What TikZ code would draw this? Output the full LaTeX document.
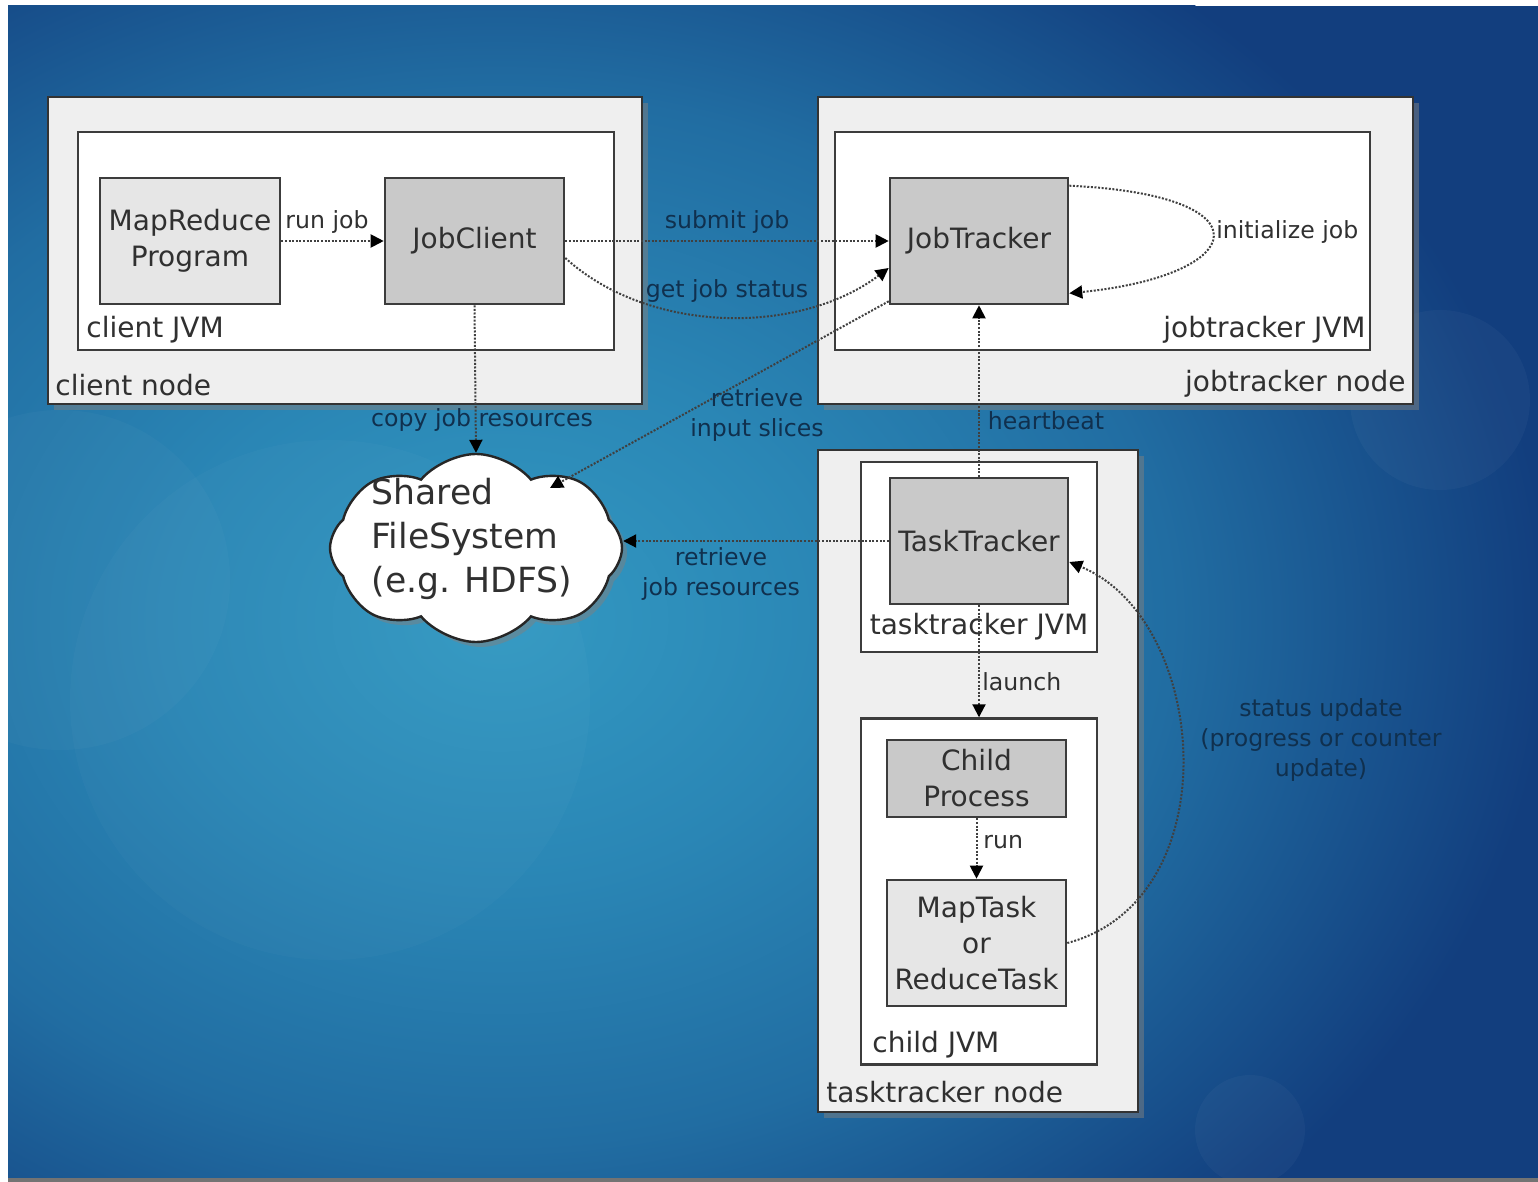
\documentclass[tikz,border=0pt]{standalone}
\usepackage{fontspec}
\setmainfont{DejaVu Sans}
\usetikzlibrary{shapes.symbols, arrows.meta, calc, shadows}

\definecolor{navy}{HTML}{123E7E}
\definecolor{midblue}{HTML}{216DA2}
\definecolor{softblue}{HTML}{2A86B5}
\definecolor{glow}{HTML}{3399C2}
\definecolor{boxline}{HTML}{3C3C3C}
\definecolor{hostfill}{HTML}{EFEFEF}
\definecolor{lightbox}{HTML}{E6E6E6}
\definecolor{darkbox}{HTML}{C9C9C9}
\definecolor{txt}{HTML}{303030}
\definecolor{bluetxt}{HTML}{10304E}

% radial glow: the middle 50bp square of the shading covers the shaded path
\pgfdeclareradialshading{bgglow}{\pgfpoint{0bp}{0bp}}{%
  color(0bp)=(glow); color(8bp)=(softblue); color(16bp)=(midblue);
  color(25bp)=(navy); color(50bp)=(navy)}

\tikzset{
  hostbox/.style={draw=black!80, line width=1.2pt, fill=hostfill,
    drop shadow={opacity=0.5, shadow xshift=3pt, shadow yshift=-3pt}},
  jvmbox/.style={draw=boxline, line width=1.2pt, fill=white},
  procbox/.style={draw=boxline, line width=1.3pt, fill=darkbox, text=txt,
    align=center, font=\fontsize{14}{18}\selectfont, inner sep=0pt},
  progbox/.style={procbox, fill=lightbox},
  boxlabel/.style={text=txt, font=\fontsize{14}{17}\selectfont, inner sep=0pt},
  flowlabel/.style={text=txt, font=\fontsize{11.8}{15}\selectfont, inner sep=0pt, align=center},
  bluelabel/.style={flowlabel, text=bluetxt},
  flow/.style={draw=black!75, line width=1pt, dash pattern=on 1pt off 0.8pt,
    -{Triangle[length=6.5pt, width=6.5pt, color=black]}},
}

\begin{document}
\begin{tikzpicture}[x=0.5pt, y=-0.5pt]
  % page and backdrop
  \fill[white] (0,0) rectangle (1538,1182);
  \fill[navy] (8,6) rectangle (1538,1180);
  \begin{scope}
    \clip (8,6) rectangle (1538,1180);
    \shade[shading=bgglow] (500,620) ellipse [x radius=1050, y radius=820];
    \fill[white, opacity=0.025] (60,580) circle (170);
    \fill[white, opacity=0.02] (330,700) circle (260);
    \fill[white, opacity=0.03] (1440,400) circle (90);
    \fill[white, opacity=0.03] (1250,1130) circle (55);
  \end{scope}
  \fill[black!55] (8,1178) rectangle (1538,1182);

  % client node
  \node[hostbox, minimum width=297pt, minimum height=153.5pt] (clientnode) at (345,250.5) {};
  \node[jvmbox, minimum width=268pt, minimum height=109pt] (clientjvm) at (346,241) {};
  \node[progbox, minimum width=90pt, minimum height=63pt] (mr) at (190,241) {MapReduce\\Program};
  \node[procbox, minimum width=89.5pt, minimum height=63pt] (jc) at (474.5,241) {JobClient};

  % jobtracker node
  \node[hostbox, minimum width=297.5pt, minimum height=153.5pt] (jtnode) at (1115.5,250.5) {};
  \node[jvmbox, minimum width=267.5pt, minimum height=109pt] (jtjvm) at (1102.5,241) {};
  \node[procbox, minimum width=89pt, minimum height=63pt] (jt) at (979,241) {JobTracker};

  % tasktracker node
  \node[hostbox, minimum width=160pt, minimum height=331pt] (ttnode) at (978,781) {};
  \node[jvmbox, minimum width=118pt, minimum height=95pt] (ttjvm) at (979,557) {};
  \node[procbox, minimum width=89pt, minimum height=63pt] (tt) at (979,541) {TaskTracker};
  \node[jvmbox, minimum width=118pt, minimum height=173pt] (childjvm) at (979,891.5) {};
  \node[procbox, minimum width=89.5pt, minimum height=38.5pt] (cp) at (976.5,778.5) {Child\\Process};
  \node[progbox, minimum width=89.5pt, minimum height=63pt] (mt) at (976.5,943) {MapTask\\or\\ReduceTask};

  % shared filesystem
  \node[cloud, draw=black!85, line width=1.2pt, fill=white, cloud puffs=8,
        cloud puff arc=100, aspect=1.55, minimum width=146pt, minimum height=94pt,
        inner sep=0pt, drop shadow={opacity=0.5, shadow xshift=2.5pt, shadow yshift=-2.5pt}]
        (sfs) at (476,548) {};
  \node[align=left, text=txt, font=\fontsize{17.3}{22}\selectfont, inner sep=0pt]
        (sfstext) at (472,539) {Shared\\FileSystem\\(e.g. HDFS)};
  \coordinate (sfsin) at ($(sfs.center)+(74,-60)$);

  % container captions
  \node[boxlabel, anchor=west] (lclientjvm) at (86,330) {client JVM};
  \node[boxlabel, anchor=west] (lclientnode) at (55,385) {client node};
  \node[boxlabel, anchor=east] (ljtjvm) at (1366,330) {jobtracker JVM};
  \node[boxlabel, anchor=east] (ljtnode) at (1406,384) {jobtracker node};
  \node[boxlabel] (lttjvm) at (979,627) {tasktracker JVM};
  \node[boxlabel, anchor=west] (lchildjvm) at (872,1045) {child JVM};
  \node[boxlabel, anchor=west] (lttnode) at (826,1092) {tasktracker node};

  % connectors
  \draw[flow] (mr.east) -- (jc.west);
  \draw[flow] (jc.east) -- (jt.west);
  \draw[flow] ($(jc.east)+(0,17)$) .. controls (650,335) and (800,335) .. ($(jt.west)+(0,27)$);
  \draw[flow] ($(jt.north east)+(0,9)$) .. controls (1270,195) and (1250,275) .. ($(jt.south east)+(0,-12)$);
  \draw[flow] (jc.south) -- (sfs.north);
  \draw[flow] ($(jt.south west)+(0,-4)$) -- (sfsin);
  \draw[flow] (tt.north) -- (jt.south);
  \draw[flow] (tt.west) -- (tt.west -| sfs.east);
  \draw[flow] (tt.south) -- (childjvm.north);
  \draw[flow] (cp.south) -- (mt.north);
  \draw[flow] (mt.east) .. controls (1230,900) and (1210,620) .. ($(tt.east)+(0,21)$);

  % connector labels
  \node[flowlabel] (lrunjob) at (327,222) {run job};
  \node[bluelabel] (lsubmit) at (727,222) {submit job};
  \node[bluelabel] (lstatus) at (727,291) {get job status};
  \node[flowlabel, anchor=west] (linit) at (1216,232) {initialize job};
  \node[bluelabel] (lcopy) at (482,420) {copy job resources};
  \node[bluelabel] (lslices) at (757,415) {retrieve\\input slices};
  \node[bluelabel] (lheart) at (1046,421) {heartbeat};
  \node[bluelabel] (lres) at (721,574) {retrieve\\job resources};
  \node[flowlabel, anchor=west] (llaunch) at (982,682) {launch};
  \node[flowlabel, anchor=west] (lrun) at (983,842) {run};
  \node[bluelabel] (lupdate) at (1321,740) {status update\\(progress or counter\\update)};
\end{tikzpicture}
\end{document}
